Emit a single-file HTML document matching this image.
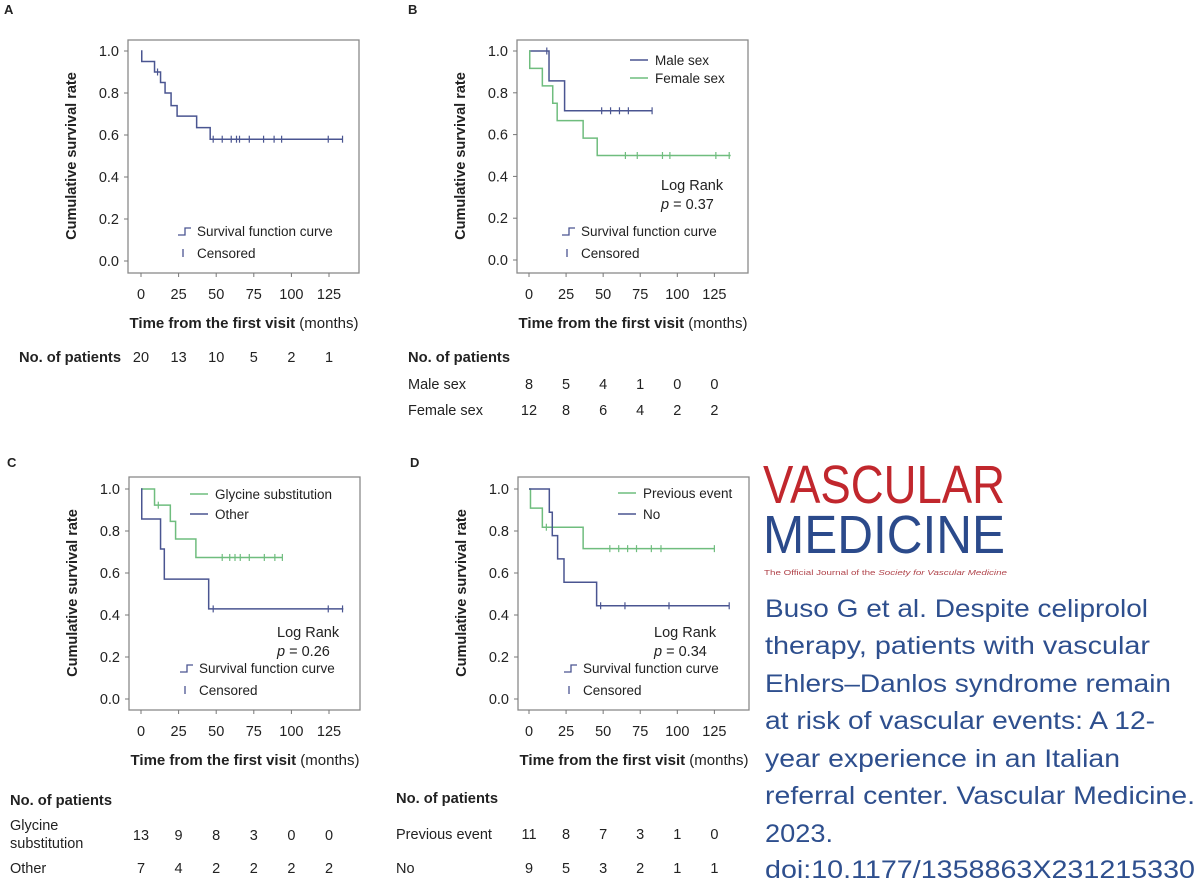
<!DOCTYPE html>
<html><head><meta charset="utf-8"><style>
html,body{margin:0;padding:0;background:#fff;}
svg{display:block;font-family:"Liberation Sans",Arial,sans-serif;}
</style></head><body>
<svg id="fig" width="1200" height="888" viewBox="0 0 1200 888" xmlns="http://www.w3.org/2000/svg">
<g id="panels"></g>
<g>
<text x="763" y="503" font-size="54" fill="#c1272d" textLength="242" lengthAdjust="spacingAndGlyphs">VASCULAR</text>
<text x="763" y="553" font-size="54" fill="#2b4a8b" textLength="242" lengthAdjust="spacingAndGlyphs">MEDICINE</text>
<text x="764" y="575" font-size="7.5" fill="#b0434a" textLength="243" lengthAdjust="spacingAndGlyphs">The Official Journal of the <tspan font-style="italic">Society for Vascular Medicine</tspan></text>
</g>
<g font-size="25" fill="#2e4f8e">
<text x="765" y="617" textLength="383" lengthAdjust="spacingAndGlyphs">Buso G et al. Despite celiprolol</text>
<text x="765" y="654" textLength="385" lengthAdjust="spacingAndGlyphs">therapy, patients with vascular</text>
<text x="765" y="692" textLength="406" lengthAdjust="spacingAndGlyphs">Ehlers–Danlos syndrome remain</text>
<text x="765" y="729" textLength="390" lengthAdjust="spacingAndGlyphs">at risk of vascular events: A 12-</text>
<text x="765" y="767" textLength="355" lengthAdjust="spacingAndGlyphs">year experience in an Italian</text>
<text x="765" y="804" textLength="430" lengthAdjust="spacingAndGlyphs">referral center. Vascular Medicine.</text>
<text x="765" y="842" textLength="68" lengthAdjust="spacingAndGlyphs">2023.</text>
<text x="765" y="878" textLength="430" lengthAdjust="spacingAndGlyphs">doi:10.1177/1358863X231215330</text>
</g>
</svg>
<script>
// ---- data ----
const xTicks=[0,25,50,75,100,125];
const yTicks=[0,0.2,0.4,0.6,0.8,1.0];
const yTickLabels=["0.0","0.2","0.4","0.6","0.8","1.0"];
// Panel A
const aTimes=[0,0.5,9,13,16,20,24,37,46];
const aSurv=[1,0.95,0.90,0.85,0.80,0.74,0.69,0.635,0.58];
const aCensor=[11,48,54,60,63.5,65.5,72,81.5,88.5,93.5,124.5,134];
const aEnd=134;
const aRisk=[20,13,10,5,2,1];
// Panel B
const bMaleTimes=[0,13.5,24];
const bMaleSurv=[1,0.857,0.714];
const bMaleCensor=[12,49,55,61,67,83];
const bMaleEnd=83;
const bFemTimes=[0,0.5,9,16,19,36.5,46];
const bFemSurv=[1,0.917,0.833,0.75,0.667,0.583,0.50];
const bFemCensor=[65,73,90,95,126,135];
const bFemEnd=136;
const bMaleRisk=[8,5,4,1,0,0];
const bFemRisk=[12,8,6,4,2,2];
// Panel C
const cGlyTimes=[0,9,19.5,23,36.5];
const cGlySurv=[1,0.923,0.846,0.762,0.674];
const cGlyCensor=[11.5,54,59,62.5,66,72,82,89,94];
const cGlyEnd=94;
const cOthTimes=[0,0.5,13,15.5,45];
const cOthSurv=[1,0.857,0.714,0.571,0.429];
const cOthCensor=[48,124.5,134];
const cOthEnd=134.5;
const cGlyRisk=[13,9,8,3,0,0];
const cOthRisk=[7,4,2,2,2,2];
// Panel D
const dPrevTimes=[0,1,9,36.5];
const dPrevSurv=[1,0.909,0.818,0.716];
const dPrevCensor=[11.7,54.5,60.5,66.5,72.5,82.5,89,125];
const dPrevEnd=125;
const dNoTimes=[0,13.7,15.7,19.3,23.6,45.6];
const dNoSurv=[1,0.889,0.778,0.667,0.556,0.444];
const dNoCensor=[48.3,64.7,94.4,135];
const dNoEnd=135;
const dPrevRisk=[11,8,7,3,1,0];
const dNoRisk=[9,5,3,2,1,1];

const BLUE="#4a5591", GREEN="#6fbd7e", NS="http://www.w3.org/2000/svg";
const root=document.getElementById('panels');
function mk(tag,attrs,parent){const e=document.createElementNS(NS,tag);for(const k in attrs)e.setAttribute(k,attrs[k]);(parent||root).appendChild(e);return e;}
function txt(x,y,s,attrs,parent){const e=mk('text',Object.assign({x:x,y:y,'font-size':13,fill:'#222'},attrs||{}),parent);e.textContent=s;return e;}

function panel(p){
  const g=mk('g',{});
  
  
  const sx=t=>p.x0+t*p.xs, sy=v=>p.y0-(p.y0-p.y1)*v;
  const lab=txt(p.lx,p.ly,p.id.toUpperCase(),{'font-weight':'bold','font-size':13},g);
  
  
  const box=mk('rect',{x:p.bx,y:p.by,width:231,height:233,fill:'none',stroke:'#8a8a8a','stroke-width':1.3},g);
  
  
  yTicks.forEach((v,i)=>{
    mk('line',{x1:p.bx-4,x2:p.bx,y1:sy(v),y2:sy(v),stroke:'#777'},g);
    const t=txt(p.bx-9,sy(v)+5,yTickLabels[i],{'text-anchor':'end','font-size':14.5},g);
    
    
  });
  xTicks.forEach(v=>{
    mk('line',{x1:sx(v),x2:sx(v),y1:p.by+233,y2:p.by+237,stroke:'#777'},g);
    const t=txt(sx(v),p.by+259,String(v),{'text-anchor':'middle','font-size':14.5},g);
    
    
  });
  const yt=txt(0,0,'Cumulative survival rate',{'font-weight':'bold','font-size':14.5,'text-anchor':'middle',transform:`translate(${p.bx-52},${p.by+116}) rotate(-90)`},g);
  
  
  const xt=txt(p.bx+116,p.by+288,'',{'text-anchor':'middle','font-size':15},g);
  
  
  const b1=mk('tspan',{'font-weight':'bold'},xt);b1.textContent='Time from the first visit ';
  const b2=mk('tspan',{},xt);b2.textContent='(months)';
  p.series.forEach(s=>{
    let d=`M${sx(s.times[0])},${sy(s.surv[0])}`;
    for(let i=1;i<s.times.length;i++){d+=`H${sx(s.times[i])}V${sy(s.surv[i])}`;}
    d+=`H${sx(s.end)}`;
    const path=mk('path',{d:d,fill:'none',stroke:s.color,'stroke-width':1.5},g);
    
    
    s.censor.forEach(t=>{
      let v=s.surv[0];for(let i=0;i<s.times.length;i++)if(s.times[i]<=t)v=s.surv[i];
      const c=mk('line',{x1:sx(t),x2:sx(t),y1:sy(v)-3.5,y2:sy(v)+3.5,stroke:s.color,'stroke-width':1.2},g);
      
      
    });
  });
  p.legend.forEach(L=>{
    mk('line',{x1:L.x,x2:L.x+18,y1:L.y,y2:L.y,stroke:L.color,'stroke-width':1.5},g);
    const t=txt(L.x+25,L.y+5,L.label,{'font-size':13.5},g);
    
    
  });
  const lx=p.bx+p.symX, ly=p.by+191;
  mk('path',{d:`M${lx},${ly+4}H${lx+7}V${ly-3}H${lx+13}`,fill:'none',stroke:BLUE,'stroke-width':1.3},g);
  const s1=txt(lx+19,ly+5,'Survival function curve',{'font-size':13.5},g);
  
  
  mk('line',{x1:lx+5,x2:lx+5,y1:ly+18,y2:ly+26,stroke:BLUE,'stroke-width':1.3},g);
  const s2=txt(lx+19,ly+27,'Censored',{'font-size':13.5},g);
  
  
  if(p.logrank){
    const l1=txt(p.bx+p.lrX,p.by+p.lrY,'Log Rank',{'font-size':14.5},g);
    
    
    const l2=txt(p.bx+p.lrX,p.by+p.lrY+19,'',{'font-size':14.5},g);
    
    
    const i1=mk('tspan',{'font-style':'italic'},l2);i1.textContent='p';
    const i2=mk('tspan',{},l2);i2.textContent=' = '+p.logrank;
  }
  const h=txt(p.rx,p.rhY,'No. of patients',{'font-weight':'bold','font-size':14.7},g);
  
  
  p.rows.forEach(r=>{
    r.label.forEach((ln,j)=>{
      const t=txt(p.rx,r.ly+j*18,ln,{'font-size':14.5},g);
      
      
    });
    r.vals.forEach((v,i)=>{
      const t=txt(sx(xTicks[i]),r.y,String(v),{'text-anchor':'middle','font-size':14.5},g);
      
      
    });
  });
}

panel({id:'a',lx:4,ly:14,bx:128,by:40,x0:141,xs:1.504,y1:51,y0:261,symX:50,
  series:[{name:'overall',times:aTimes,surv:aSurv,censor:aCensor,end:aEnd,color:BLUE}],legend:[],
  rx:19,rhY:362,rows:[{label:[],ly:0,y:362,vals:aRisk}]});
panel({id:'b',lx:408,ly:14,bx:517,by:40,x0:529,xs:1.483,y1:51,y0:260,symX:45,logrank:'0.37',lrX:144,lrY:150,
  series:[{name:'male',times:bMaleTimes,surv:bMaleSurv,censor:bMaleCensor,end:bMaleEnd,color:BLUE},
          {name:'female',times:bFemTimes,surv:bFemSurv,censor:bFemCensor,end:bFemEnd,color:GREEN}],
  legend:[{x:630,y:60,color:BLUE,label:'Male sex'},{x:630,y:78,color:GREEN,label:'Female sex'}],
  rx:408,rhY:362,rows:[{label:['Male sex'],ly:389,y:389,vals:bMaleRisk},{label:['Female sex'],ly:415,y:415,vals:bFemRisk}]});
panel({id:'c',lx:7,ly:467,bx:129,by:477,x0:141,xs:1.504,y1:489,y0:699,symX:51,logrank:'0.26',lrX:148,lrY:160,
  series:[{name:'glycine',times:cGlyTimes,surv:cGlySurv,censor:cGlyCensor,end:cGlyEnd,color:GREEN},
          {name:'other',times:cOthTimes,surv:cOthSurv,censor:cOthCensor,end:cOthEnd,color:BLUE}],
  legend:[{x:190,y:494,color:GREEN,label:'Glycine substitution'},{x:190,y:514,color:BLUE,label:'Other'}],
  rx:10,rhY:805,rows:[{label:['Glycine','substitution'],ly:830,y:840,vals:cGlyRisk},{label:['Other'],ly:873,y:873,vals:cOthRisk}]});
panel({id:'d',lx:410,ly:467,bx:518,by:477,x0:529,xs:1.483,y1:489,y0:699,symX:46,logrank:'0.34',lrX:136,lrY:160,
  series:[{name:'previous-event',times:dPrevTimes,surv:dPrevSurv,censor:dPrevCensor,end:dPrevEnd,color:GREEN},
          {name:'no',times:dNoTimes,surv:dNoSurv,censor:dNoCensor,end:dNoEnd,color:BLUE}],
  legend:[{x:618,y:493,color:GREEN,label:'Previous event'},{x:618,y:514,color:BLUE,label:'No'}],
  rx:396,rhY:803,rows:[{label:['Previous event'],ly:839,y:839,vals:dPrevRisk},{label:['No'],ly:873,y:873,vals:dNoRisk}]});
</script>
</body></html>
